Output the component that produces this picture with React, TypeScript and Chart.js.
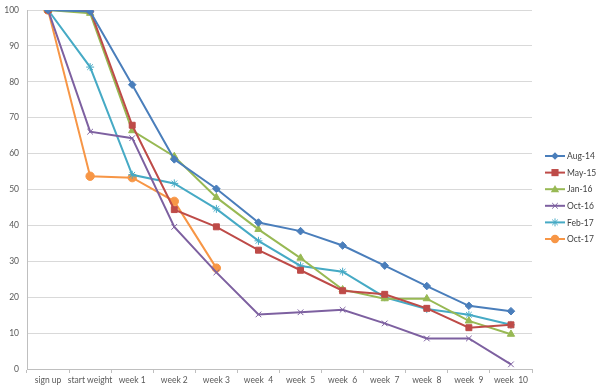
import React, { useEffect, useRef } from "react";
import { Chart, registerables } from "chart.js";

Chart.register(...registerables);

const categories = ["sign up", "start weight", "week 1", "week 2", "week 3", "week  4", "week  5", "week  6", "week  7", "week  8", "week  9", "week  10"];
const aug14 = [100, 99.6, 79.2, 58.4, 50.2, 40.8, 38.4, 34.4, 28.8, 23.1, 17.6, 16.1];
const may15 = [100, 100, 67.9, 44.4, 39.6, 33.1, 27.5, 21.8, 20.8, 16.9, 11.5, 12.3];
const jan16 = [100, 99.1, 66.4, 59.2, 47.8, 38.9, 30.9, 22.1, 19.6, 19.6, 13.4, 9.7];
const oct16 = [100, 66.1, 64.3, 39.6, 26.9, 15.2, 15.8, 16.5, 12.7, 8.5, 8.5, 1.3];
const feb17 = [100, 84.1, 54.1, 51.7, 44.6, 35.7, 28.7, 27.1, 20.0, 16.7, 15.1, 12.3];
const oct17 = [100, 53.7, 53.3, 46.7, 28.1, null, null, null, null, null, null, null];
const seriesNames = ["Aug-14", "May-15", "Jan-16", "Oct-16", "Feb-17", "Oct-17"];
const yTicks = [0, 10, 20, 30, 40, 50, 60, 70, 80, 90, 100];

const colors = ["#4A7EBB", "#BE4B48", "#98B954", "#7D60A0", "#46AAC5", "#F79646"];
const styles: any[] = ["rectRot", "rect", "triangle", "crossRot", "star", "circle"];
const radii = [3.8, 4.2, 4.2, 4, 4, 4.2];

const FONT = "Lato, 'Liberation Sans', sans-serif";

function drawPoint(ctx: CanvasRenderingContext2D, style: string, r: number, x: number, y: number, color: string) {
  ctx.save();
  ctx.fillStyle = color;
  ctx.strokeStyle = color;
  ctx.lineWidth = 1;
  ctx.beginPath();
  if (style === "rectRot") {
    ctx.moveTo(x, y - r);
    ctx.lineTo(x + r, y);
    ctx.lineTo(x, y + r);
    ctx.lineTo(x - r, y);
    ctx.closePath();
    ctx.fill();
  } else if (style === "rect") {
    ctx.rect(x - r * 0.85, y - r * 0.85, r * 1.7, r * 1.7);
    ctx.fill();
  } else if (style === "triangle") {
    ctx.moveTo(x, y - r);
    ctx.lineTo(x + r, y + r * 0.75);
    ctx.lineTo(x - r, y + r * 0.75);
    ctx.closePath();
    ctx.fill();
  } else if (style === "crossRot") {
    const d = r * 0.7;
    ctx.moveTo(x - d, y - d);
    ctx.lineTo(x + d, y + d);
    ctx.moveTo(x + d, y - d);
    ctx.lineTo(x - d, y + d);
    ctx.stroke();
  } else if (style === "star") {
    const d = r * 0.7;
    ctx.moveTo(x - d, y - d);
    ctx.lineTo(x + d, y + d);
    ctx.moveTo(x + d, y - d);
    ctx.lineTo(x - d, y + d);
    ctx.moveTo(x, y - r);
    ctx.lineTo(x, y + r);
    ctx.stroke();
  } else {
    ctx.arc(x, y, r, 0, Math.PI * 2);
    ctx.fill();
  }
  ctx.restore();
}

const legendPlugin = {
  id: "customLegend",
  afterDraw(chart: any) {
    const ctx = chart.ctx;
    const x0 = 545;
    const y0 = 156;
    const gap = 16.6;
    ctx.save();
    chart.data.datasets.forEach((ds: any, i: number) => {
      const y = y0 + i * gap;
      ctx.strokeStyle = ds.borderColor;
      ctx.lineWidth = 2;
      ctx.beginPath();
      ctx.moveTo(x0, y);
      ctx.lineTo(x0 + 20, y);
      ctx.stroke();
      drawPoint(ctx, ds.pointStyle, ds.pointRadius, x0 + 10, y, ds.borderColor);
      ctx.fillStyle = "#404040";
      ctx.font = "8.5px " + FONT;
      ctx.textBaseline = "middle";
      ctx.textAlign = "left";
      ctx.fillText(ds.label, x0 + 22, y + 0.5);
    });
    ctx.restore();
  },
};

export default function App() {
  const ref = useRef<HTMLCanvasElement | null>(null);
  useEffect(() => {
    if (!ref.current) return;
    const all = [aug14, may15, jan16, oct16, feb17, oct17];
    const chart = new Chart(ref.current, {
      type: "line",
      data: {
        labels: categories,
        datasets: all.map((d, i) => ({
          label: seriesNames[i],
          data: d,
          borderColor: colors[i],
          backgroundColor: colors[i],
          pointBackgroundColor: colors[i],
          pointBorderColor: colors[i],
          pointStyle: styles[i],
          pointRadius: radii[i],
          pointBorderWidth: 1,
          borderWidth: 2,
          tension: 0,
          spanGaps: false,
        })),
      },
      options: {
        animation: false,
        responsive: true,
        maintainAspectRatio: false,
        layout: { padding: { top: 10, right: 68, left: 0, bottom: 0 } },
        plugins: { legend: { display: false }, tooltip: { enabled: false } },
        scales: {
          x: {
            offset: true,
            grid: { offset: true, drawOnChartArea: false, tickLength: 4, color: "#BFBFBF" },
            border: { color: "#BFBFBF" },
            ticks: { color: "#595959", font: { size: 8.5, family: FONT }, maxRotation: 0, autoSkip: false, padding: 2 },
            afterFit(scale: any) {
              scale.height = 22;
              scale.paddingLeft = 0;
              scale.paddingRight = 0;
            },
          },
          y: {
            min: 0,
            max: 100,
            afterBuildTicks(scale: any) {
              scale.ticks = yTicks.map((v) => ({ value: v }));
            },
            grid: { color: "#D9D9D9", lineWidth: 1, drawTicks: false },
            border: { color: "#BFBFBF" },
            ticks: { color: "#595959", font: { size: 8.5, family: FONT }, padding: 8 },
            afterFit(scale: any) {
              scale.width = 27;
              scale.paddingTop = 0;
              scale.paddingBottom = 0;
            },
          },
        },
      },
      plugins: [legendPlugin],
    });
    return () => chart.destroy();
  }, []);
  return (
    <div style={{ position: "absolute", left: 0, top: 0, width: 600, height: 391, background: "#fff" }}>
      <canvas ref={ref} />
    </div>
  );
}
